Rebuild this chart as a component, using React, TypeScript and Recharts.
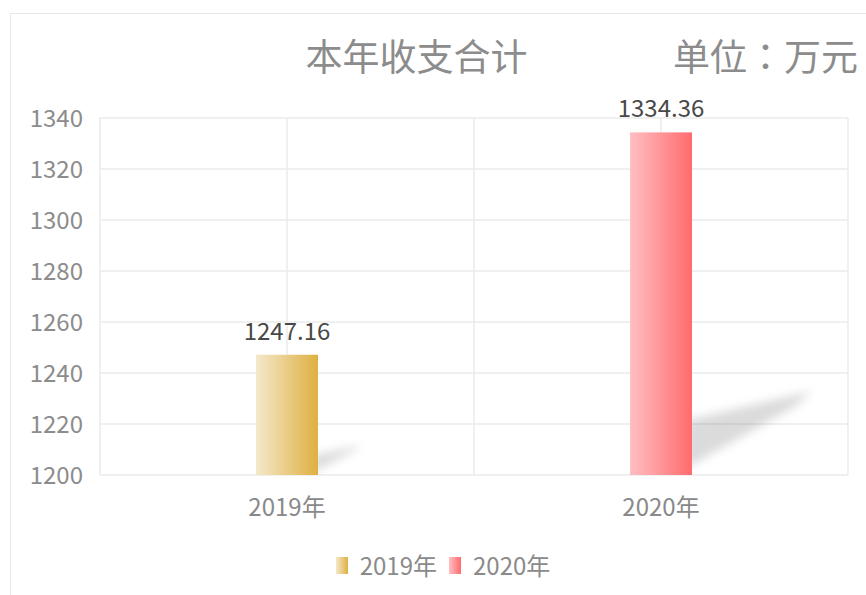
import React from "react";
import { BarChart, Bar, XAxis, YAxis, CartesianGrid, Cell, LabelList } from "recharts";

const categories = ["2019年", "2020年"];
const totals = [1247.16, 1334.36];
const yTicks = [1200, 1220, 1240, 1260, 1280, 1300, 1320, 1340];

// left -> right gradient per bar
const barColors = [
  ["#f4e8cb", "#dfb041"],
  ["#ffbfc3", "#ff6b6d"],
];

const FONT = '"Noto Sans CJK SC", "Noto Sans", sans-serif';

const data = categories.map((name, i) => ({ name, value: totals[i] }));

function ShadowBar(props: any) {
  const { x, y, width: w, height: h, index } = props;
  if (!h || h <= 0) return null;
  const b = y + h;
  const right = x + w;
  const [c0, c1] = barColors[index % barColors.length];
  const gid = `barGrad${index}`;
  const fid = `barShadow${index}`;
  const shadow = [
    [right - 6, b - 0.16 * h],
    [right + 0.35 * h, b - 0.245 * h],
    [right + 0.3 * h, b - 0.2 * h],
    [right - 6, b - 0.02 * h],
  ]
    .map((p) => p.join(","))
    .join(" ");
  return (
    <g>
      <defs>
        <linearGradient id={gid} x1="0" y1="0" x2="1" y2="0">
          <stop offset="0" stopColor={c0} />
          <stop offset="1" stopColor={c1} />
        </linearGradient>
        <filter id={fid} x="-50%" y="-50%" width="200%" height="200%">
          <feGaussianBlur stdDeviation={5} />
        </filter>
      </defs>
      {/* soft floor shadow */}
      <polygon points={shadow} fill="#000" fillOpacity={0.14} filter={`url(#${fid})`} />
      <rect x={x} y={y} width={w} height={h} fill={`url(#${gid})`} />
    </g>
  );
}

export default function App() {
  return (
    <div
      style={{
        position: "fixed",
        left: 0,
        top: 0,
        width: 866,
        height: 595,
        overflow: "hidden",
        background: "#fff",
        fontFamily: FONT,
      }}
    >
      {/* outer frame, only left/top edges are visible */}
      <div
        style={{
          position: "absolute",
          left: 10,
          top: 13,
          width: 900,
          height: 700,
          borderLeft: "1px solid #e8e8e8",
          borderTop: "1px solid #e8e8e8",
        }}
      />

      <div
        style={{
          position: "absolute",
          left: 296,
          top: 37,
          width: 241,
          textAlign: "center",
          fontSize: 37,
          lineHeight: "37px",
          color: "#8c8c8c",
          whiteSpace: "nowrap",
        }}
      >
        本年收支合计
      </div>
      <div
        style={{
          position: "absolute",
          left: 673,
          top: 37,
          fontSize: 37,
          lineHeight: "37px",
          color: "#8c8c8c",
          whiteSpace: "nowrap",
          fontFamily: '"Noto Sans CJK JP", "Noto Sans CJK SC", sans-serif',
        }}
      >
        单位：万元
      </div>

      <div style={{ position: "absolute", left: 0, top: 0 }}>
        <BarChart
          width={866}
          height={595}
          data={data}
          margin={{ top: 118, right: 18, left: 0, bottom: 90 }}
        >
          <CartesianGrid
            stroke="#ebebeb"
            strokeWidth={1.5}
            verticalCoordinatesGenerator={({ offset }: any) =>
              [0, 0.25, 0.5, 0.75, 1].map((f) => offset.left + f * offset.width)
            }
          />
          <XAxis
            dataKey="name"
            height={30}
            axisLine={false}
            tickLine={false}
            tickMargin={18}
            tick={{ fill: "#898989", fontSize: 24, fontFamily: FONT }}
          />
          <YAxis
            width={100}
            domain={[1200, 1340]}
            ticks={yTicks}
            allowDataOverflow
            axisLine={false}
            tickLine={false}
            tickMargin={11}
            tick={{ fill: "#8c8c8c", fontSize: 24, fontFamily: FONT }}
          />
          <Bar dataKey="value" barSize={62} shape={ShadowBar} isAnimationActive={false}>
            {data.map((d, i) => (
              <Cell key={d.name} fill={barColors[i][1]} />
            ))}
            <LabelList
              dataKey="value"
              position="top"
              offset={15}
              fill="#484848"
              fontSize={24}
              fontFamily={FONT}
            />
          </Bar>
        </BarChart>
      </div>

      {/* legend */}
      <div
        style={{
          position: "absolute",
          left: 10,
          top: 549,
          width: 866,
          display: "flex",
          justifyContent: "center",
          alignItems: "center",
          fontSize: 24,
          lineHeight: "32px",
          color: "#8a8a8a",
        }}
      >
        {categories.map((c, i) => (
          <div key={c} style={{ display: "flex", alignItems: "center", marginLeft: i ? 12 : 0 }}>
            <span
              style={{
                display: "inline-block",
                width: 12,
                height: 17,
                marginRight: 12,
                background: `linear-gradient(to right, ${barColors[i][0]}, ${barColors[i][1]})`,
                filter: "blur(0.6px)",
              }}
            />
            <span>{c}</span>
          </div>
        ))}
      </div>
    </div>
  );
}
